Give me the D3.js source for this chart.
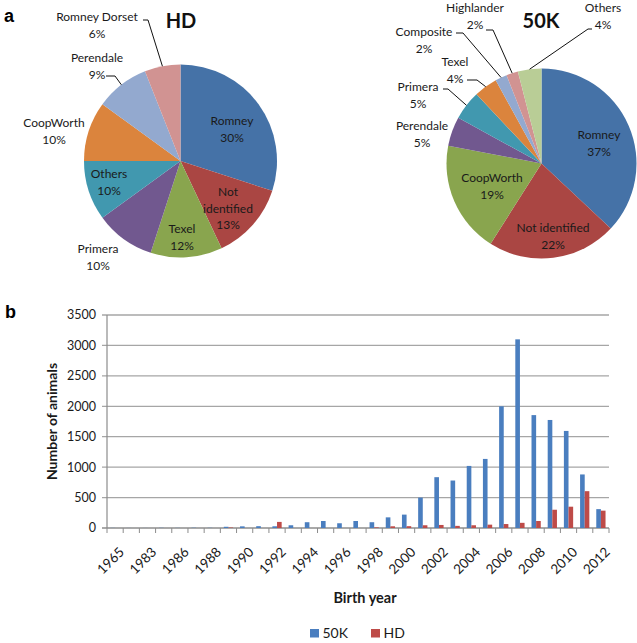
<!DOCTYPE html>
<html><head><meta charset="utf-8">
<script src="https://cdn.jsdelivr.net/npm/d3@7"></script>
<style>body{margin:0;background:#fff}svg{display:block}text{font-family:Lato,"Open Sans",sans-serif}</style>
</head><body><svg id="c" width="637" height="643"></svg>
<script>
// ---------- DATA ----------
const hdBreeds   = ["Romney","Not identified","Texel","Primera","Others","CoopWorth","Perendale","Romney Dorset"];
const hdShares   = [30,13,12,10,10,10,9,6];
const k50Breeds  = ["Romney","Not identified","CoopWorth","Perendale","Primera","Texel","Composite","Highlander","Others"];
const k50Shares  = [37,22,19,5,5,4,2,2,4];
const years      = ["1965","1980","1983","1985","1986","1987","1988","1989","1990","1991","1992","1993","1994","1995","1996","1997","1998","1999","2000","2001","2002","2003","2004","2005","2006","2007","2008","2009","2010","2011","2012"];
const count50K   = [2,1,1,3,2,4,3,20,27,30,28,45,95,115,78,115,95,175,220,500,835,780,1020,1135,2000,3100,1855,1775,1595,880,310];
const countHD    = [0,0,0,0,0,0,0,8,0,0,100,0,0,0,0,0,10,28,30,45,50,35,45,55,65,85,115,300,350,605,285];
const seriesNames = ["50K","HD"];
const yTicks     = [0,500,1000,1500,2000,2500,3000,3500];

// ---------- STYLE / LAYOUT ----------
const hdColors  = ["#4572A7","#AA4643","#89A54E","#71588F","#4198AF","#DB843D","#93A9CF","#D19392"];
const k50Colors = ["#4572A7","#AA4643","#89A54E","#71588F","#4198AF","#DB843D","#93A9CF","#D19392","#B9CD96"];
const barColors = ["#4A7EBF","#BE4B48"];

const hdLabelLayout = {
  "Romney":        {x:232,y:121,lines:["Romney"]},
  "Not identified":{x:228,y:192,lines:["Not","identified"]},
  "Texel":         {x:182,y:229,lines:["Texel"]},
  "Primera":       {x:98, y:249,lines:["Primera"]},
  "Others":        {x:109,y:174,lines:["Others"]},
  "CoopWorth":     {x:54, y:123,lines:["CoopWorth"]},
  "Perendale":     {x:97, y:58, lines:["Perendale"], leader:[[106,76],[115,76]]},
  "Romney Dorset": {x:97, y:17, lines:["Romney Dorset"], leader:[[143,20],[148,20]]}
};
const k50LabelLayout = {
  "Romney":        {x:599,y:135,lines:["Romney"]},
  "Not identified":{x:553,y:228,lines:["Not identified"]},
  "CoopWorth":     {x:492,y:178,lines:["CoopWorth"]},
  "Perendale":     {x:422,y:126,lines:["Perendale"]},
  "Primera":       {x:418,y:87, lines:["Primera"], leader:[[443,89],[448,89]]},
  "Texel":         {x:455,y:62, lines:["Texel"], leader:[[467,80],[477,80]]},
  "Composite":     {x:424,y:32, lines:["Composite"], leader:[[456,33],[463,33]]},
  "Highlander":    {x:475,y:8,  lines:["Highlander"], leader:[[486,30],[493,30]]},
  "Others":        {x:603,y:8,  lines:["Others"], leader:[[592,29],[588,29]]}
};

const svg = d3.select("#c");

function drawPie(names, shares, colors, cx, cy, r, layout, title, tx) {
  const pie = d3.pie().sort(null).value(d => d);
  const arcs = pie(shares);
  const arc = d3.arc().innerRadius(0).outerRadius(r);
  const g = svg.append("g").attr("transform", `translate(${cx},${cy})`);
  g.selectAll("path").data(arcs).join("path")
    .attr("d", arc).attr("fill", (d,i) => colors[i]);
  arcs.forEach((a,i) => {
    const L = layout[names[i]];
    const lines = L.lines.concat([shares[i] + "%"]);
    lines.forEach((t,k) => {
      svg.append("text").attr("x", L.x).attr("y", L.y + k*16.5).attr("dy","0.35em")
        .attr("text-anchor","middle").attr("font-size",12).attr("fill","#1a1a1a").text(t);
    });
    if (L.leader) {
      const mid = (a.startAngle + a.endAngle)/2;
      const end = [cx + r*Math.sin(mid), cy - r*Math.cos(mid)];
      svg.append("polyline").attr("points", L.leader.concat([end]).map(p => p.join(",")).join(" "))
        .attr("fill","none").attr("stroke","#111").attr("stroke-width",1);
    }
  });
  svg.append("text").attr("x", tx).attr("y", 28).attr("text-anchor","middle")
    .attr("font-size",20).attr("font-weight","bold").attr("fill","#111").text(title);
}

svg.append("text").attr("x",4).attr("y",22).attr("font-size",18).attr("font-weight","bold")
  .style("font-family","Liberation Sans, Arial, sans-serif").text("a");
svg.append("text").attr("x",5).attr("y",318).attr("font-size",18).attr("font-weight","bold")
  .style("font-family","Liberation Sans, Arial, sans-serif").text("b");

drawPie(hdBreeds, hdShares, hdColors, 180.5, 161, 96.5, hdLabelLayout, "HD", 181);
drawPie(k50Breeds, k50Shares, k50Colors, 541.5, 163.5, 95, k50LabelLayout, "50K", 541);

// ---------- BAR CHART ----------
const x0 = 107, x1 = 609, yTop = 315, yBot = 528;
const x = d3.scaleBand().domain(years).range([x0, x1]).paddingInner(0).paddingOuter(0);
const y = d3.scaleLinear().domain([0, 3500]).range([yBot, yTop]);
const bw = x.bandwidth() / 3.5;

const gb = svg.append("g");
gb.selectAll("line.grid").data(yTicks).join("line").attr("class","grid")
  .attr("x1", x0 - 5).attr("x2", x1).attr("y1", d => y(d)).attr("y2", d => y(d))
  .attr("stroke", d => d === 0 ? "#8c8c8c" : "#a6a6a6").attr("stroke-width", 1.3);
gb.append("line").attr("x1",x0).attr("x2",x0).attr("y1",yTop).attr("y2",yBot)
  .attr("stroke","#8c8c8c").attr("stroke-width",1.2);
gb.selectAll("text.yt").data(yTicks).join("text").attr("class","yt")
  .attr("x", x0 - 11).attr("y", d => y(d)).attr("dy","0.35em").attr("text-anchor","end")
  .attr("font-size",12.5).attr("fill","#1a1a1a").text(d => d);

const bounds = years.map(d => x(d)).concat([x1]);
gb.selectAll("line.xt").data(bounds).join("line").attr("class","xt")
  .attr("x1", d => d).attr("x2", d => d).attr("y1", yBot).attr("y2", yBot + 5)
  .attr("stroke","#8c8c8c").attr("stroke-width",1);

const series = [count50K, countHD];
series.forEach((vals, s) => {
  gb.selectAll("rect.s" + s).data(vals).join("rect").attr("class","s"+s)
    .attr("x", (d,i) => x(years[i]) + x.bandwidth()/2 - bw + s*bw)
    .attr("width", bw)
    .attr("y", d => y(d)).attr("height", d => yBot - y(d))
    .attr("fill", barColors[s]);
});

gb.selectAll("text.xl").data(years.filter((d,i) => i % 2 === 0)).join("text").attr("class","xl")
  .attr("transform", d => `translate(${x(d) + x.bandwidth()/2 + 3},${yBot + 18}) rotate(-45)`)
  .attr("text-anchor","end").attr("dy","0.72em").attr("font-size",13.5).attr("fill","#1a1a1a").text(d => d);

svg.append("text").attr("transform", `translate(52,${(yTop+yBot)/2}) rotate(-90)`)
  .attr("text-anchor","middle").attr("dy","0.35em").attr("font-size",14).attr("font-weight","bold")
  .attr("fill","#1a1a1a").text("Number of animals");
svg.append("text").attr("x",365).attr("y",598).attr("dy","0.35em").attr("text-anchor","middle")
  .attr("font-size",14.5).attr("font-weight","bold").attr("fill","#1a1a1a").text("Birth year");

const lg = svg.append("g");
const legX = [310, 371];
seriesNames.forEach((n,i) => {
  lg.append("rect").attr("x", legX[i]).attr("y", 629).attr("width", 9).attr("height", 8.5).attr("fill", barColors[i]);
  lg.append("text").attr("x", legX[i] + 12.5).attr("y", 633).attr("dy","0.35em").attr("font-size",14)
    .attr("fill","#1a1a1a").text(n);
});
</script></body></html>
